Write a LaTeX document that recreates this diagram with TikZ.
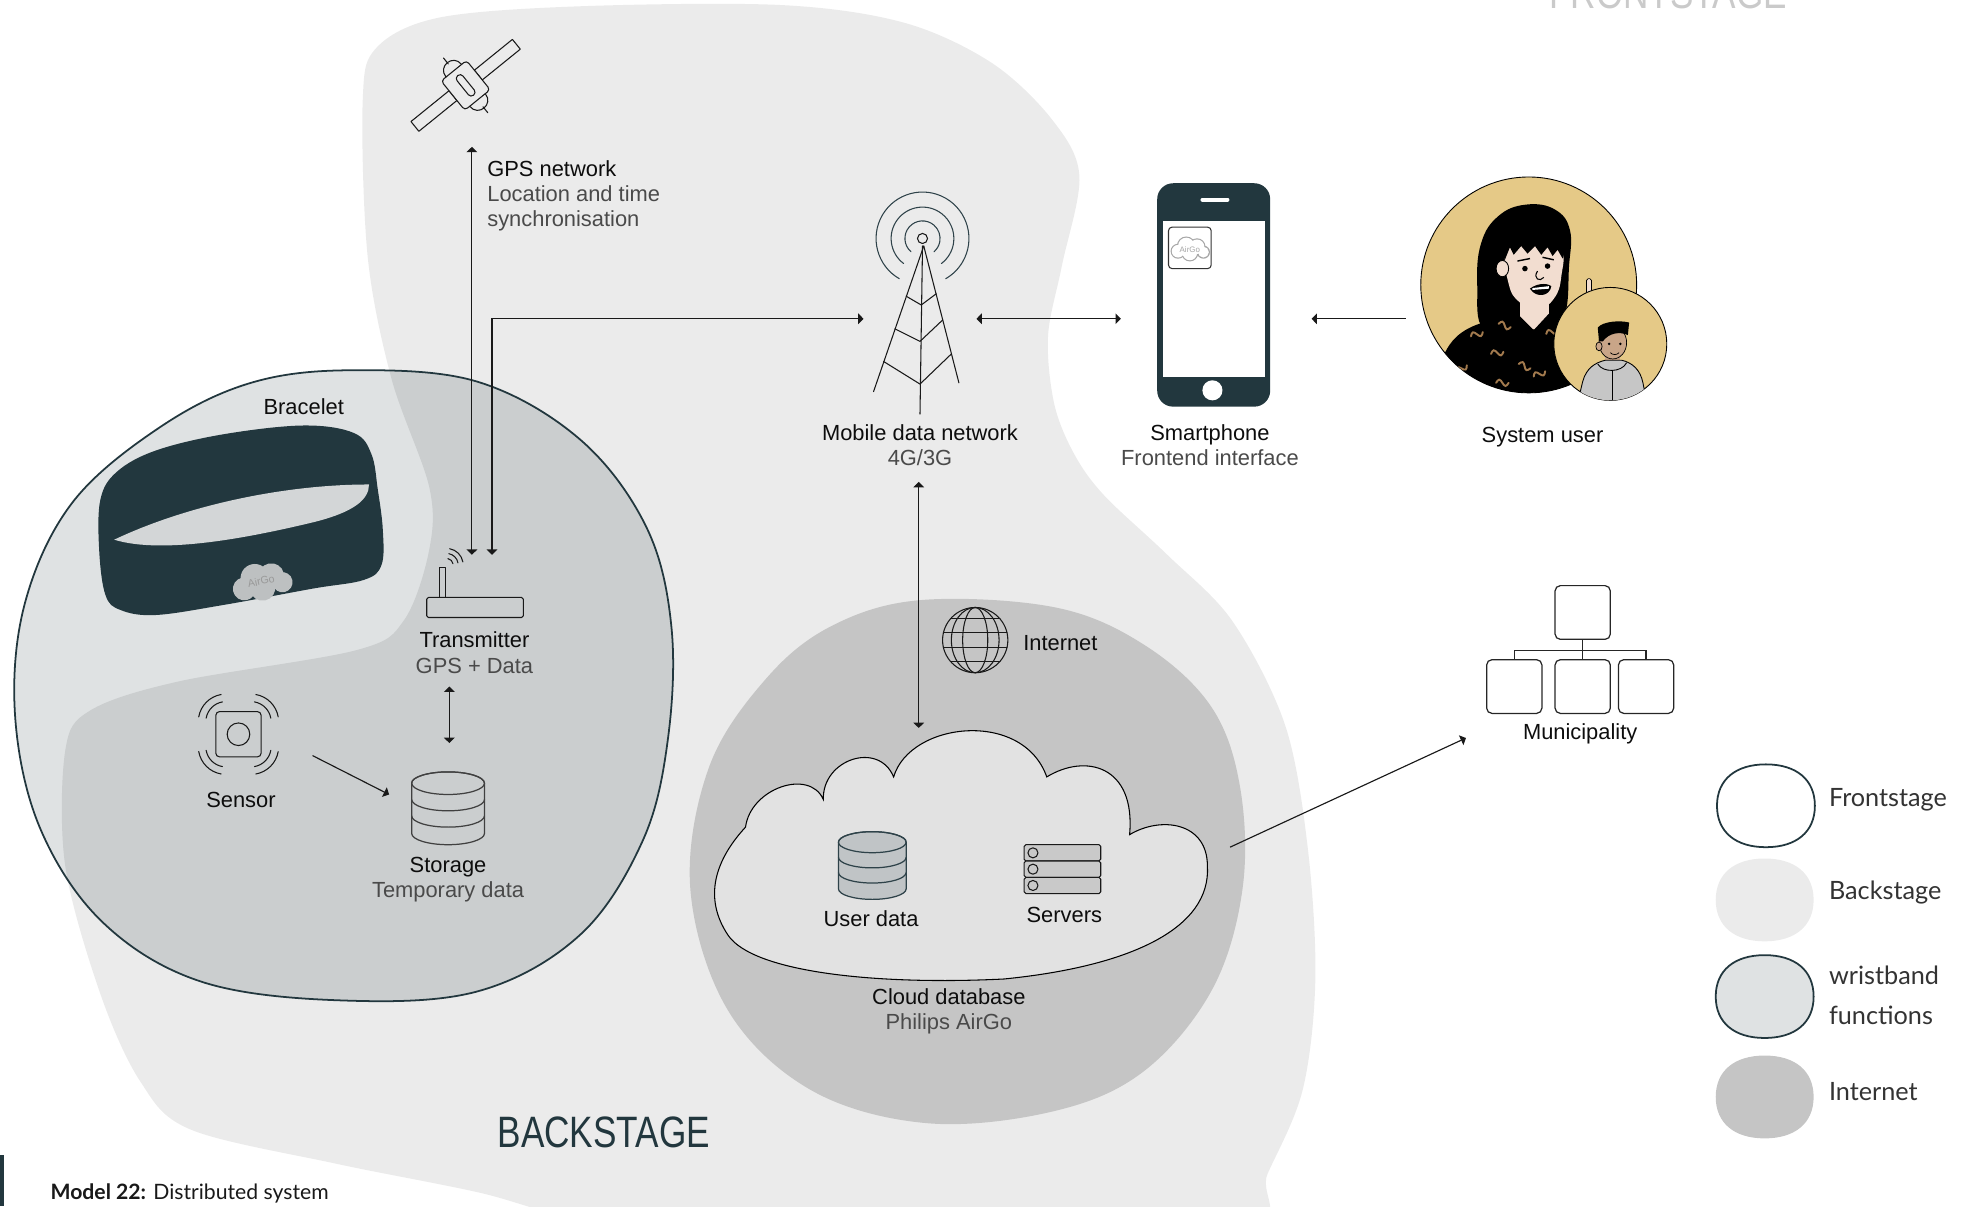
\documentclass[tikz,border=0pt]{standalone}
\usepackage{fontspec}
\setmainfont{Liberation Sans}
\newfontfamily\legendfont{Lato}
\newfontfamily\stagefont[FakeStretch=0.8]{Liberation Sans}
\usepackage{tikz}
\usetikzlibrary{arrows.meta,positioning}

\definecolor{tealdark}{HTML}{22373E}
\definecolor{ringteal}{HTML}{2E4249}
\definecolor{backfill}{HTML}{EBEBEB}
\definecolor{wristlight}{HTML}{DFE2E3}
\definecolor{wristdark}{HTML}{CBCECF}
\definecolor{netfill}{HTML}{C5C5C5}
\definecolor{cloudfill}{HTML}{E2E2E2}
\definecolor{lensfill}{HTML}{D3D6D7}
\definecolor{cloudgray}{HTML}{BDC0C1}
\definecolor{subgray}{HTML}{4A4A4A}
\definecolor{stagegray}{HTML}{CACACA}
\definecolor{gold}{HTML}{E5C987}
\definecolor{skin}{HTML}{F2DDD0}
\definecolor{boyskin}{HTML}{C9A588}
\definecolor{hood}{HTML}{C6C6C6}
\definecolor{squig}{HTML}{A27A4E}
\definecolor{dbfill}{HTML}{C0C4C6}
\definecolor{srvfill}{HTML}{C9C9C9}

\newcommand{\twoline}[2]{#1\\{\color{subgray}#2}}

% areas
\def\backstagepath{plot[smooth cycle, tension=0.55] coordinates {(289,80) (300,38) (350,14) (462,5) (622,4) (720,18) (790,50) (838,95) (860,140) (846,212) (835,268) (840,322) (856,362) (880,395) (930,442) (982,495) (1024,578) (1042,676) (1048,780) (1038,868) (1010,935) (985,985) (700,1000) (480,975) (381,950) (267,927) (152,900) (112,862) (80,792) (52,690) (52,598) (72,566) (142,543) (284,518) (322,494) (342,438) (342,388) (312,302) (293,205)}}
\def\wristpath{plot[smooth cycle, tension=0.6] coordinates {(280,295) (380,304) (462,350) (515,420) (535,500) (532,590) (512,670) (462,745) (380,790) (270,797) (160,782) (82,735) (32,660) (12,570) (20,480) (58,400) (128,340) (200,305)}}
\def\netpath{plot[smooth cycle, tension=0.6] coordinates {(735,478) (841,484) (912,514) (965,563) (988,627) (990,708) (966,788) (912,853) (841,885) (740,895) (647,869) (580,805) (550,708) (565,611) (611,540) (664,498)}}

\tikzset{
  pics/dbstack/.style={code={
    \path[pic actions] (-29,0) -- (-29,40) arc[start angle=180, end angle=0, x radius=29, y radius=9]
      -- (29,0) arc[start angle=0, end angle=-180, x radius=29, y radius=9] -- cycle;
    \path[pic actions, fill=none] (0,0) ellipse [x radius=29, y radius=9];
    \path[pic actions, fill=none] (-29,13) arc[start angle=180, end angle=0, x radius=29, y radius=9];
    \path[pic actions, fill=none] (-29,26) arc[start angle=180, end angle=0, x radius=29, y radius=9];
  }},
  pics/puff/.style 2 args={code={
    \foreach \cx/\cy/\r/\rr in {-13/3/7/8.3, -4/-3/9/10.3, 8/-2/8/9.3, 15/4/6/7.3, 0/5/8/9.3}
      \fill[#1] (\cx,\cy) circle (\rr);
    \foreach \cx/\cy/\r/\rr in {-13/3/7/8.3, -4/-3/9/10.3, 8/-2/8/9.3, 15/4/6/7.3, 0/5/8/9.3}
      \fill[#2] (\cx,\cy) circle (\r);
  }},
  pics/squiggle/.style={code={
    \draw[squig, line width=1.1pt, line cap=round] (0,0) sin (2.5,-2.5) cos (5,0) sin (7.5,2.5) cos (10,0);
  }},
  pics/keyblob/.style={code={
    \path[pic actions] (0,-33) .. controls (24,-33) and (39,-21) .. (39,0)
      .. controls (39,21) and (24,33) .. (0,33) .. controls (-24,33) and (-39,21) .. (-39,0)
      .. controls (-39,-21) and (-24,-33) .. (0,-33) -- cycle;
  }}
}

\begin{document}
\begin{tikzpicture}[x = {(0.025cm,0cm)},
                    y = {(0cm,-0.025cm)},
                    >={Triangle[length=3pt,width=6pt]},
                    font=\fontsize{12.4}{14.2}\selectfont]
% styles
\tikzset{txt/.style={inner sep=0pt,align=center,text=black!95},
         keytxt/.style={inner sep=0pt,anchor=west,align=left,text=black!80,
                        font=\legendfont\fontsize{14.3}{22.8}\selectfont},
         flow/.style={draw=black!90,line width=0.65pt},
         icon/.style={draw=black!90,line width=0.6pt,line join=round,line cap=round},
         ring/.style={draw=ringteal,line width=0.6pt,line cap=round},
         orgbox/.style={draw=black!85,line width=0.7pt,rounded corners=3pt,
                        minimum width=1.1cm,minimum height=1.07cm,inner sep=0pt}}
\useasboundingbox (0,0) rectangle (1568,961);
\clip (0,0) rectangle (1568,961);

%backstage
\fill[backfill] \backstagepath;
%wristband functions
\fill[wristlight] \wristpath;
\begin{scope}
  \clip \wristpath;
  \fill[wristdark] \backstagepath;
\end{scope}
\draw[tealdark, line width=1pt] \wristpath;
%internet
\fill[netfill] \netpath;

%stage titles
\node[font=\stagefont\fontsize{24.9}{26}\selectfont, text=stagegray, anchor=base] (frontlbl) at (1329,7) {FRONTSTAGE};
\node[font=\stagefont\fontsize{24.9}{26}\selectfont, text=tealdark] (backlbl) at (481,902) {BACKSTAGE};

%satellite
\begin{scope}[shift={(371,68)}, rotate=39]
  \draw[icon] (-52,-5) rectangle (-13,5);
  \draw[icon] (13,-5) rectangle (52,5);
  \draw[icon, fill=backfill, rounded corners=2pt] (-13,-15) rectangle (13,15);
  \draw[icon, rounded corners=2pt] (-3,-10) rectangle (3,10);
  \draw[icon] (-8,-15) .. controls (-8,-26) and (8,-26) .. (8,-15);
  \draw[icon] (0,-22) -- (0,-28);
  \draw[icon] (-8,15) .. controls (-8,26) and (8,26) .. (8,15);
  \draw[icon] (0,22) -- (0,28);
\end{scope}
\node[txt, anchor=west, align=left] (gps) at (388,156)
  {GPS network\\{\color{subgray}Location and time}\\{\color{subgray}synchronisation}};

%bracelet
\fill[tealdark] plot[smooth cycle, tension=0.6] coordinates {(80,398) (93,376) (124,359) (178,346) (242,339) (282,345) (296,362) (301,390) (305,422) (304,450) (290,462) (249,469) (178,482) (124,490) (96,486) (84,474) (79,438)};
\fill[lensfill] (91,430) .. controls (150,402) and (228,386) .. (294,386)
  .. controls (294,398) and (282,408) .. (250,416) .. controls (200,428) and (130,442) .. (91,430) -- cycle;
\pic[rotate=12, scale=1.1] at (208,463) {puff={cloudgray}{cloudgray}};
\node[rotate=12, font=\fontsize{6}{6}\selectfont, text=black!40] (bandlogo) at (208,463) {AirGo};
\node[txt] (bracelet) at (242,324) {Bracelet};

%transmitter
\draw[icon, rounded corners=1pt] (340,476) rectangle (417,492);
\draw[icon] (350,452) rectangle (355,476);
\foreach \r in {5,9,13}
  \draw[icon] (356,450) ++(-80:\r) arc[start angle=-80, end angle=-10, radius=\r];
\node[txt] (trans) at (378,520) {\twoline{Transmitter}{GPS + Data}};

%sensor
\draw[icon, rounded corners=2pt] (172,567) rectangle (208,603);
\draw[icon] (190,585) circle (9);
\foreach \a/\cx/\cy in {225/180/575, 315/200/575, 135/180/595, 45/200/595}
  \foreach \r in {16,22}
    \draw[icon] (\cx,\cy) ++(\a-35:\r) arc[start angle=\a-35, end angle=\a+35, radius=\r];
\node[txt] (sensor) at (192,637) {Sensor};

%storage
\pic[draw=black!75, fill=wristdark, line width=0.7pt] at (357,624) {dbstack};
\node[txt] (storage) at (357,701) {\twoline{Storage}{Temporary data}};

%tower
\draw[icon] (736,196) -- (696,312);
\draw[icon] (736,196) -- (764,305);
\draw[icon] (735,196) -- (733,330);
\draw[icon] (722,236) -- (734,243) -- (746,234);
\draw[icon] (713,262) -- (733,272) -- (751,255);
\draw[icon] (704,288) -- (733,306) -- (758,282);
\draw[icon] (735,190) circle (4);
\foreach \r/\a in {14/49, 25/53, 37/60}
  \draw[ring] (735,190) ++(180-\a:\r) arc[start angle=180-\a, end angle=360+\a, radius=\r];
\node[txt] (mobile) at (733,355) {\twoline{Mobile data network}{4G/3G}};

%smartphone
\fill[tealdark, rounded corners=9pt] (922,146) rectangle (1012,324);
\fill[white] (927,176) rectangle (1008,300);
\fill[white] (966,311) circle (8);
\draw[white, line width=2.2pt, line cap=round] (958,159) -- (978,159);
\draw[black!80, fill=white, rounded corners=2pt, line width=0.6pt] (931,181) rectangle (965,214);
\pic[scale=0.72] at (948,198) {puff={black!35}{white}};
\node[font=\fontsize{4.5}{5}\selectfont, text=black!35] (appname) at (948,199) {AirGo};
\node[txt] (smart) at (964,355) {\twoline{Smartphone}{Frontend interface}};

%system user
\fill[gold, draw=black, line width=0.5pt] (1218,227) circle (86);
\begin{scope}
  \clip (1218,227) circle (86);
  \fill[black] plot[smooth cycle, tension=0.7] coordinates {(1182,262) (1177,228) (1180,194) (1194,172) (1216,163) (1239,167) (1251,184) (1250,214) (1248,246) (1240,262) (1212,262)};
  \fill[skin] (1211,236) rectangle (1234,262);
  \fill[black] (1138,335) -- (1146,296) .. controls (1152,272) and (1163,262) .. (1185,256)
    -- (1211,252) -- (1222,263) -- (1234,250) -- (1246,249)
    .. controls (1262,254) and (1272,270) .. (1278,300) -- (1284,335) -- cycle;
  \foreach \sx/\sy/\sa in {1172/268/20, 1194/258/-15, 1188/282/10, 1210/290/-20, 1232/266/15, 1160/296/30, 1192/305/0, 1222/300/25}
    \pic[rotate=\sa] at (\sx,\sy) {squiggle};
  \fill[skin] plot[smooth cycle, tension=0.8] coordinates {(1201,200) (1202,226) (1211,241) (1225,246) (1238,238) (1244,220) (1243,198) (1222,190)};
  \fill[skin, draw=black, line width=0.5pt] (1197,214) ellipse (5 and 6.5);
  \fill[black] (1199,207) .. controls (1196,186) and (1214,174) .. (1234,176)
    .. controls (1245,179) and (1249,192) .. (1245,206) -- (1241,199) -- (1237,204) -- (1233,197)
    -- (1228,203) -- (1223,196) -- (1217,202) -- (1212,196) -- (1206,203) -- (1203,197) -- cycle;
  \fill (1215,214) circle (2.2);
  \fill (1233,212) circle (2.2);
  \draw[line width=0.8pt] (1209,208) -- (1219,206);
  \draw[line width=0.8pt] (1229,205) -- (1238,207);
  \draw[line width=0.6pt] (1225,216) .. controls (1221,222) and (1227,225) .. (1230,221);
  \fill[black] (1219,230) .. controls (1224,226) and (1232,225) .. (1236,228)
    .. controls (1235,236) and (1224,238) .. (1219,230) -- cycle;
  \fill[white] (1221,229.5) -- (1234,228) -- (1234,230) -- (1221,231) -- cycle;
  \fill[skin, draw=black, line width=0.4pt, rounded corners=1pt] (1264,222) rectangle (1268,236);
\end{scope}
\fill[gold, draw=black, line width=0.5pt] (1283,274) circle (45);
\begin{scope}
  \clip (1283,274) circle (45);
  \fill[boyskin] (1279,280) rectangle (1291,292);
  \fill[hood, draw=black, line width=0.5pt] (1256,325) -- (1261,304) .. controls (1264,293) and (1271,289) .. (1279,287)
    -- (1292,287) .. controls (1301,289) and (1307,295) .. (1309,305) -- (1313,325) -- cycle;
  \draw[line width=0.5pt] (1285,295) -- (1285,325);
  \draw[line width=0.5pt] (1273,290) .. controls (1277,297) and (1292,297) .. (1296,289);
  \fill[boyskin, draw=black, line width=0.4pt] (1285,273) ellipse (11 and 13);
  \fill[boyskin, draw=black, line width=0.4pt] (1274,276) ellipse (2.5 and 3.5);
  \fill[black] (1274,272) -- (1273,261) .. controls (1277,256) and (1291,255) .. (1298,257)
    -- (1297,267) .. controls (1291,264) and (1282,265) .. (1277,272) -- cycle;
  \fill (1282,274) circle (1.1);
  \fill (1291,274) circle (1.1);
  \draw[line width=0.4pt] (1283,281) .. controls (1285,283) and (1288,283) .. (1290,281);
\end{scope}
\node[txt] (user) at (1229,348) {System user};

%cloud database
\draw[black, line width=0.6pt, fill=cloudfill] (594,659)
  .. controls (598,628) and (645,612) .. (656,637)
  .. controls (655,605) and (700,590) .. (712,619)
  .. controls (725,575) and (815,565) .. (834,619)
  .. controls (865,600) and (905,610) .. (900,665)
  .. controls (925,650) and (962,655) .. (962,690)
  .. controls (965,740) and (900,770) .. (800,780)
  .. controls (700,785) and (600,775) .. (580,745)
  .. controls (560,715) and (570,685) .. (594,659) -- cycle;
\pic[draw=ringteal, fill=dbfill, line width=0.7pt, scale=0.93] at (695,671) {dbstack};
\node[txt] (udata) at (694,732) {User data};
\foreach \i in {0,1,2} {
  \draw[icon, fill=srvfill, rounded corners=1pt] (816,673+13*\i) rectangle (877,686+13*\i);
  \draw[icon] (823,679.5+13*\i) circle (4);
}
\node[txt] (servers) at (848,729) {Servers};
\node[txt] (clouddb) at (756,806) {\twoline{Cloud database}{Philips AirGo}};

%globe
\draw[icon] (777,510) circle (26);
\draw[icon] (777,510) ellipse (10 and 26);
\draw[icon] (777,510) ellipse (19 and 26);
\foreach \d/\w in {-17/19.6, -6/25.3, 6/25.3, 17/19.6}
  \draw[icon] (777-\w,510+\d) -- (777+\w,510+\d);
\node[txt, anchor=west] (inet) at (815,512) {Internet};

%municipality
\node[orgbox] (m0) at (1261,488) {};
\node[orgbox] (m1) at (1206.5,547) {};
\node[orgbox] (m2) at (1261,547) {};
\node[orgbox] (m3) at (1311.5,547) {};
\coordinate (mbus) at (1261,518);
\draw[black!85, line width=0.7pt] (m0.south) -- (m2.north);
\draw[black!85, line width=0.7pt] (m1.north) |- (mbus) -| (m3.north);
\node[txt] (muni) at (1259,585) {Municipality};

%connectors
\coordinate (gpsTop) at (376,117);
\coordinate (gpsBot) at (376,442);
\coordinate (dataBot) at (392,442);
\coordinate (towerW) at (688,254);
\coordinate (towerE) at (778,254);
\coordinate (phoneW) at (893,254);
\coordinate (phoneE) at (1045,254);
\coordinate (userW) at (1120,254);
\coordinate (towerS) at (732,384);
\coordinate (cloudN) at (732,580);
\coordinate (txS) at (358,547);
\coordinate (storeN) at (358,592);
\coordinate (sensorE) at (249,602);
\coordinate (storeW) at (310,633);
\coordinate (cloudE) at (980,675);
\coordinate (muniW) at (1168,588);
\draw[flow,<->] (gpsTop) -- (gpsBot);
\draw[flow,<->] (dataBot) |- (towerW);
\draw[flow,<->] (towerE) -- (phoneW);
\draw[flow,->] (userW) -- (phoneE);
\draw[flow,<->] (towerS) -- (cloudN);
\draw[flow,<->] (txS) -- (storeN);
\draw[flow,->] (sensorE) -- (storeW);
\draw[flow,->] (cloudE) -- (muniW);

%legend
\pic[draw=tealdark, line width=1pt, fill=white] at (1407,642) {keyblob};
\pic[fill=backfill] at (1406,717) {keyblob};
\pic[draw=tealdark, line width=1pt, fill=wristlight] at (1406,794) {keyblob};
\pic[fill=netfill] at (1406,874) {keyblob};
\node[keytxt] (kfront) at (1457,637) {Frontstage};
\node[keytxt] (kback) at (1457,711) {Backstage};
\node[keytxt] (kwrist) at (1457,793) {wristband\\functions};
\node[keytxt] (knet) at (1457,870) {Internet};

%caption
\fill[tealdark] (0,920) rectangle (3,961);
\node[anchor=west, inner sep=0pt, font=\legendfont\fontsize{12}{14}\selectfont, text=black!90] (caption) at (40,951)
  {\textbf{Model 22:} Distributed system};
\end{tikzpicture}
\end{document}
